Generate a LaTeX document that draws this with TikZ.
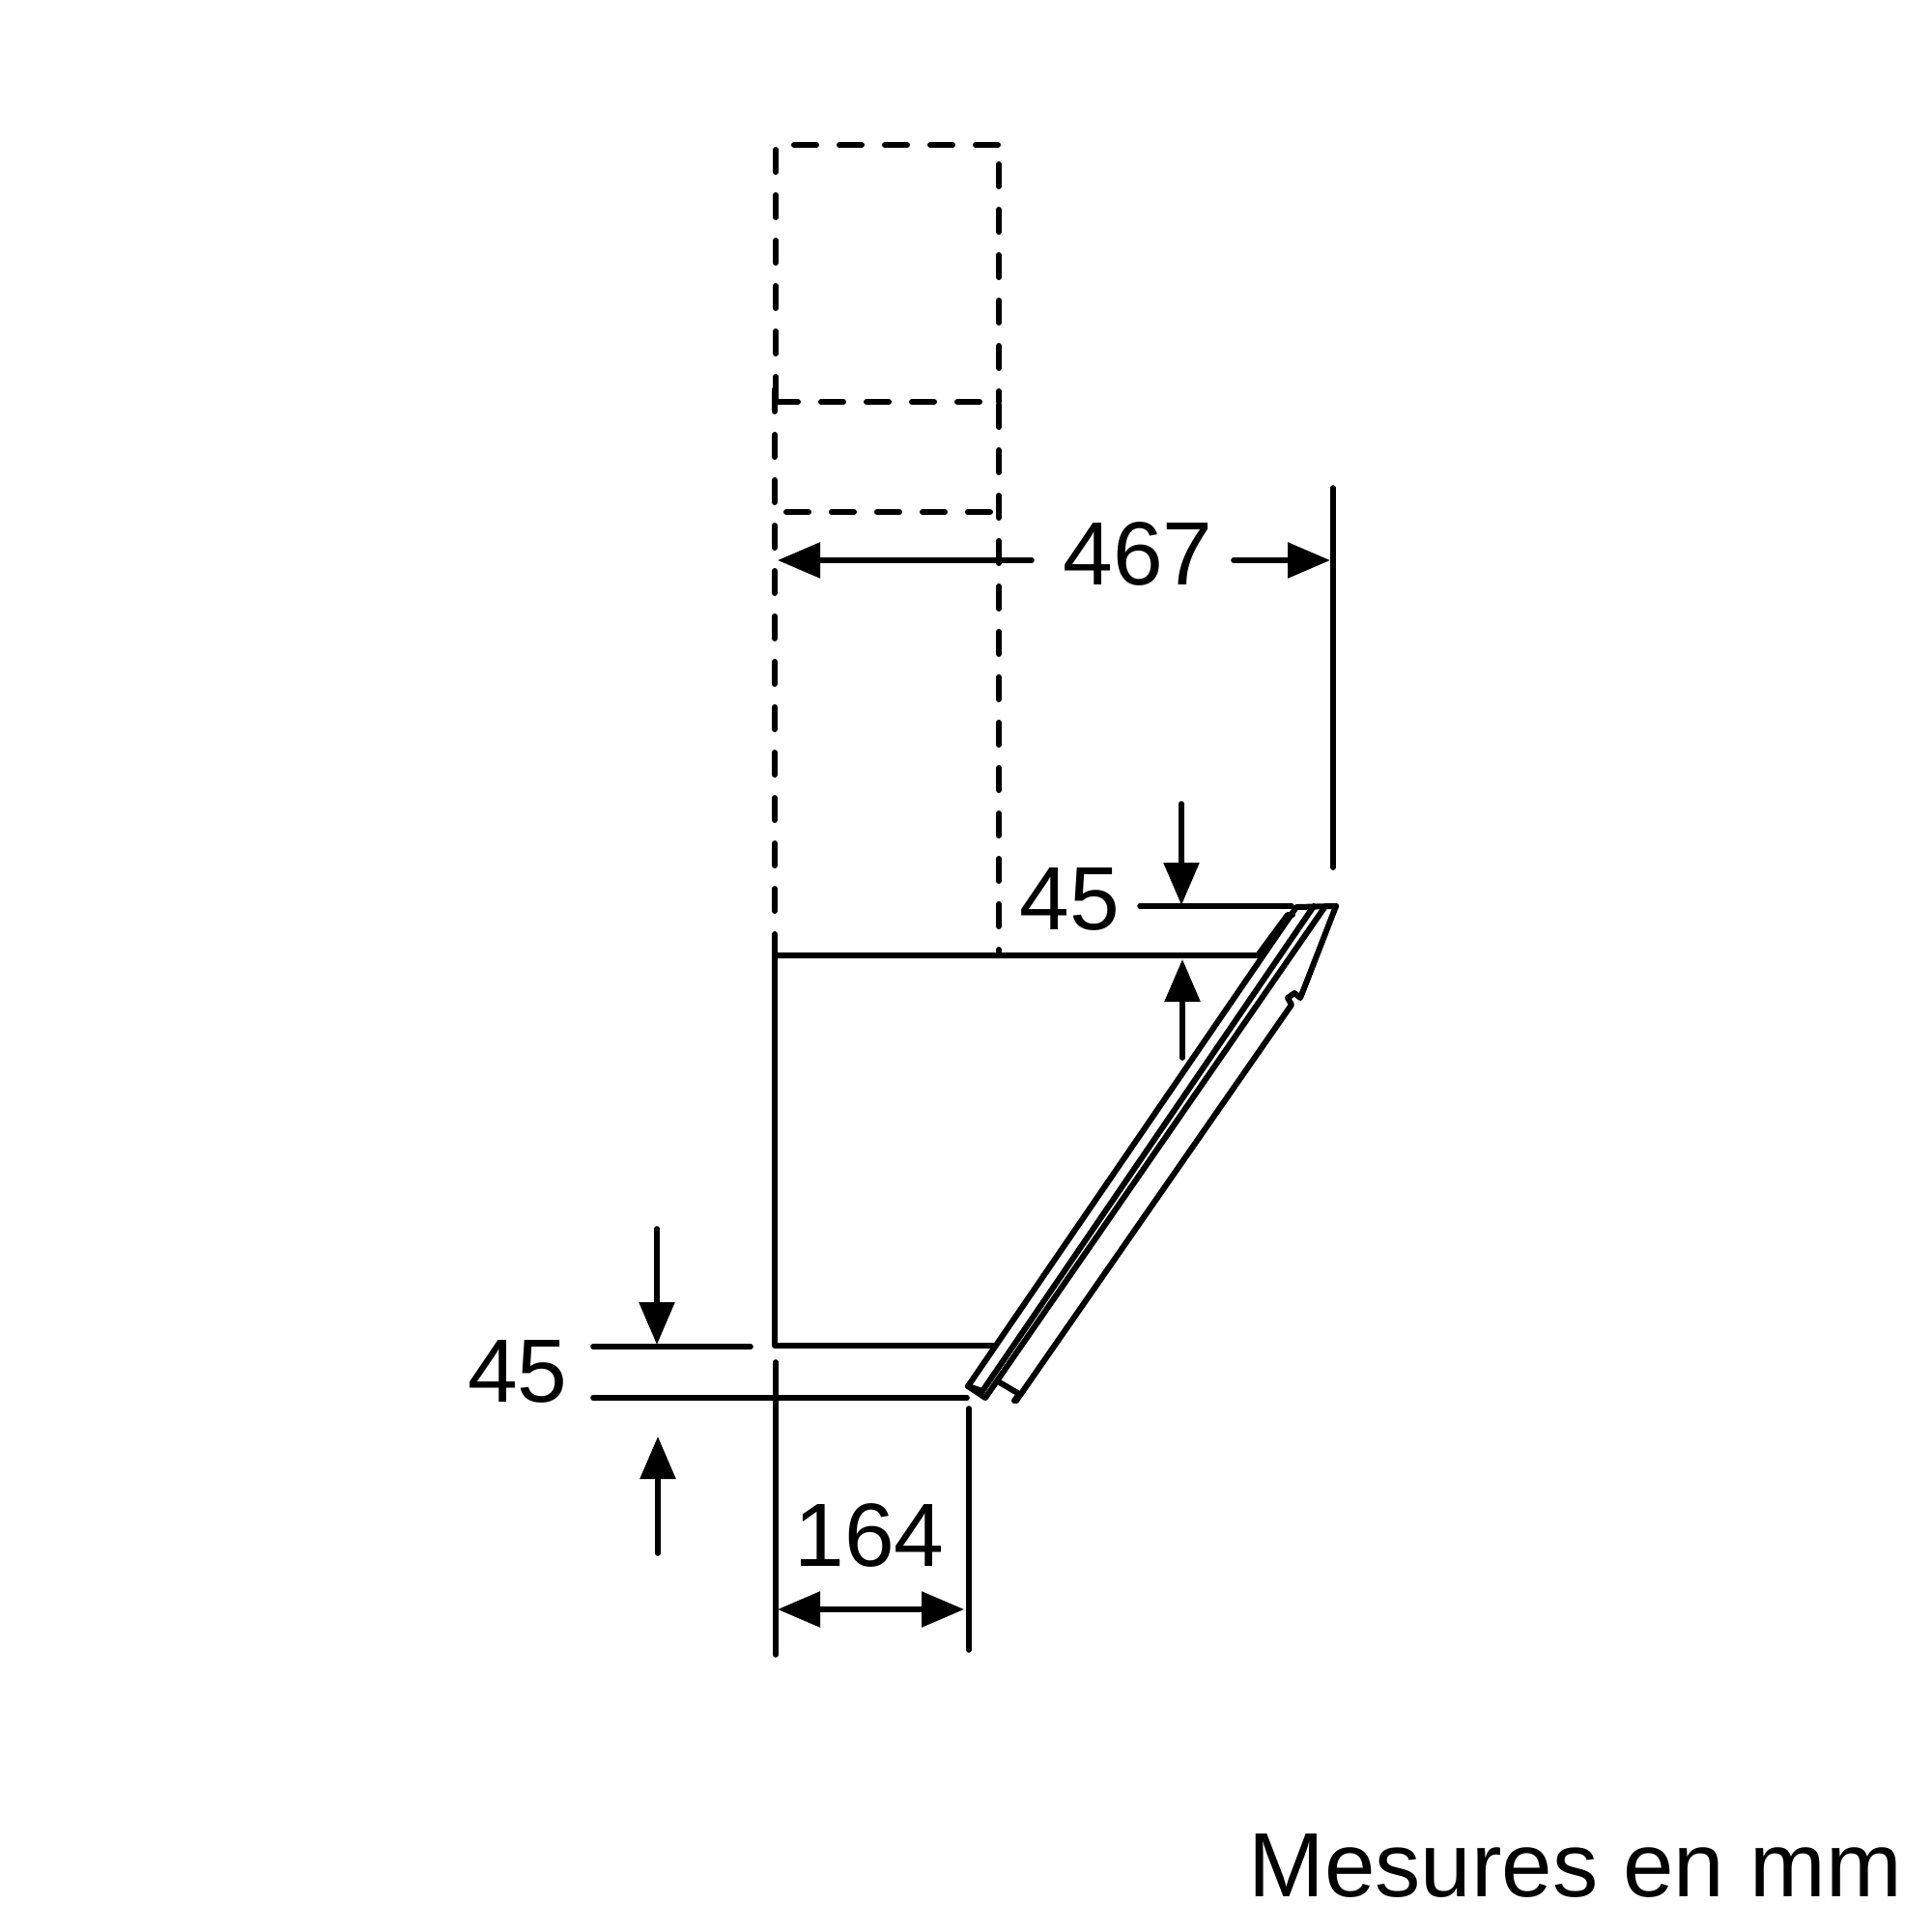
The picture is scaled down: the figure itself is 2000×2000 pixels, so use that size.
\documentclass[tikz,border=0pt]{standalone}
\usepackage{fontspec}
\setmainfont{Liberation Sans}
\usetikzlibrary{arrows.meta}
\tikzset{
  edge/.style={line width=3pt,line cap=round,line join=round},
  hidden/.style={edge,dash pattern=on 11.5pt off 12pt},
  dim/.style={line width=2.8pt,line cap=round},
  dimarrow/.style={dim,-{Triangle[length=22pt,width=18pt]}},
  dimboth/.style={dim,{Triangle[length=22pt,width=18pt]}-{Triangle[length=22pt,width=18pt]}},
  dimtext/.style={inner sep=0pt,font=\fontsize{46.5}{50}\selectfont},
}

\begin{document}
\begin{tikzpicture}[x=0.5pt,y=-0.5pt]

  \useasboundingbox (0,0) rectangle (2000,2000);

  % hidden duct
  \draw[hidden] (1033,150) -- (803,150); %% top
  \draw[hidden] (803,155) -- (803,416);
  \draw[hidden] (802,403) -- (802,965);
  \draw[hidden] (1034,170) -- (1034,416);
  \draw[hidden] (1034,419) -- (1034,989);
  \draw[hidden] (803,416) -- (1017,416);
  \draw[hidden] (814,530) -- (1028,530);

  % body
  \draw[edge] (802,967) -- (802,1393) -- (1028,1393);
  \draw[edge] (802,989) -- (1302,989) -- (1333,947) -- (1338,947);

  % glass panel
  \draw[edge] (1017,1440) -- (1002,1435) -- (1342,939) -- (1383,938); %% outer edge
  \draw[edge] (1002,1435) -- (1020,1447) -- (1372,938);
  \draw[edge] (1017,1440) -- (1360,938);
  \draw[edge] (1383,938) -- (1350,1023) -- (1346,1033) -- (1340,1028) -- (1333,1033) -- (1337,1040) -- (1052,1450);
  \draw[edge] (1033,1430) -- (1055,1443) -- (1050,1450);

  % 467
  \node[dimtext] (widthText) at (1178,573) {467};
  \draw[dim] (1380,505) -- (1380,898);
  \draw[dimarrow] (1068,580) -- (805,580);
  \draw[dimarrow] (1277,580) -- (1377,580);

  % 45 top
  \node[dimtext] (topText) at (1107,931) {45};
  \draw[dim] (1180,938) -- (1337,938);
  \draw[dimarrow] (1223,832) -- (1223,937);
  \draw[dimarrow] (1224,1095) -- (1224,993);

  % 45 bottom
  \node[dimtext] (lowText) at (536,1420) {45};
  \draw[dim] (614,1394) -- (777,1394);
  \draw[dim] (614,1447) -- (1001,1447);
  \draw[dimarrow] (680,1272) -- (680,1392);
  \draw[dimarrow] (681,1608) -- (681,1487);

  % 164
  \node[dimtext] (depthText) at (900,1589) {164};
  \draw[dim] (803,1410) -- (803,1713);
  \draw[dim] (1003,1458) -- (1003,1708);
  \draw[dimboth] (805,1666) -- (998,1666);

  \node[dimtext,font=\fontsize{47.2}{50}\selectfont,anchor=base west] (unitText) at (1292,1963) {Mesures en mm};

\end{tikzpicture}
\end{document}
